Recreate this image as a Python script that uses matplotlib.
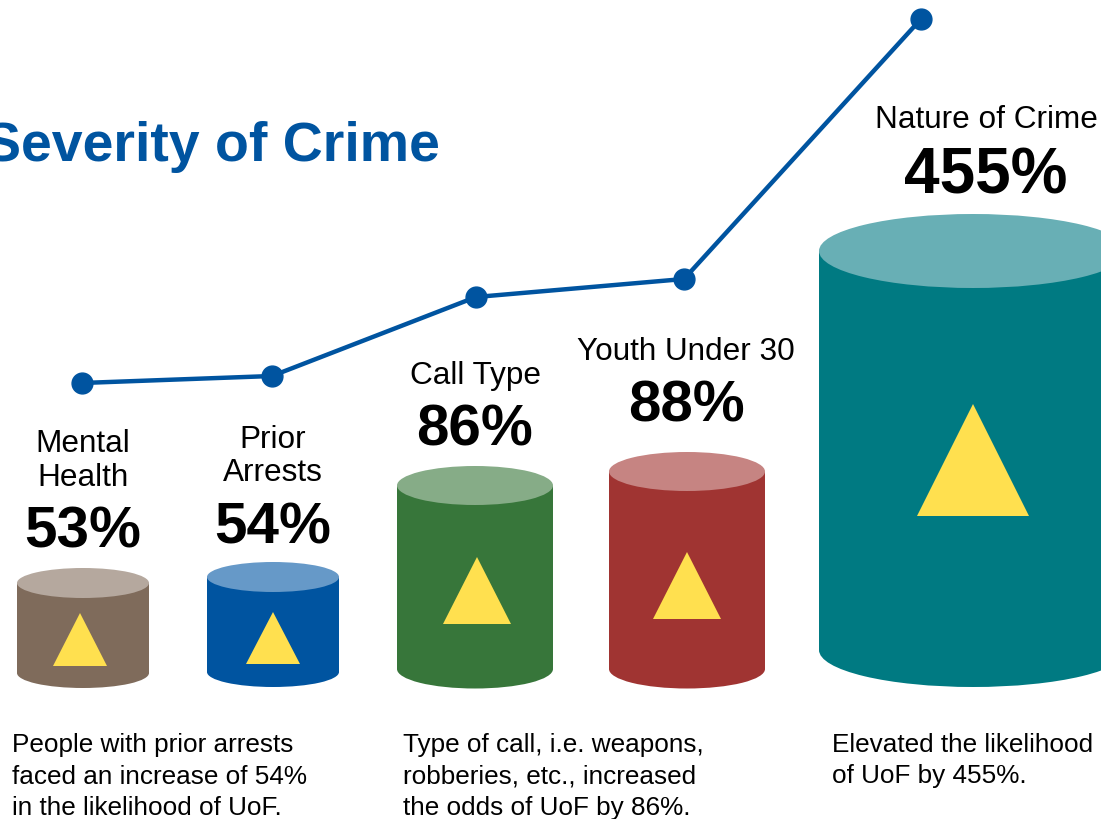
import matplotlib

matplotlib.use("Agg")
import matplotlib.pyplot as plt
from matplotlib.patches import Ellipse, Polygon, Rectangle

plt.rcParams["font.family"] = ["Liberation Sans", "DejaVu Sans"]

# Data
categories = ["Mental\nHealth", "Prior\nArrests", "Call Type", "Youth Under 30", "Nature of Crime"]
values = [53, 54, 86, 88, 455]
# trend line levels (pixels above bottom edge)
trend = [436, 443, 522, 540, 800]
notes = [
    "People with prior arrests\nfaced an increase of 54%\nin the likelihood of UoF.",
    "Type of call, i.e. weapons,\nrobberies, etc., increased\nthe odds of UoF by 86%.",
    "Elevated the likelihood\nof UoF by 455%.",
]

# Layout (pixel coordinates, y measured downward)
W, H = 1101, 819
centers = [83, 273, 475, 687, 973]
text_x = [83, 273, 475, 686, 986]
line_x = [82, 272, 476, 684, 921]
widths = [132, 132, 156, 156, 308]
top_y = [583, 577, 485.5, 471.5, 251]
bot_y = [673, 672, 669, 669, 650]
cap_ry = [15, 15, 19.5, 19.5, 37]
tri_apex = [613, 612, 557, 552, 404]
tri_base = [666, 664, 624, 619, 516]
tri_half = [27, 27, 34, 34, 56]
tri_x = [80, 273, 477, 687, 973]
label_base = [486, 481, 384, 360, 128]   # baseline of the last label line
value_base = [548, 543, 445, 422, 193]
value_size = [42, 42, 42, 42, 46]
note_x = [12, 403, 832]
body_colors = ["#7F6B5B", "#0054A0", "#37763A", "#A03432", "#007A82"]
cap_colors = ["#B5A89E", "#6699C8", "#86AC87", "#C68482", "#68AFB5"]
blue = "#0054A0"
yellow = "#FFE04F"

fig = plt.figure(figsize=(W / 100, H / 100), dpi=100)
ax = fig.add_axes([0, 0, 1, 1])
ax.set_xlim(0, W)
ax.set_ylim(H, 0)
ax.axis("off")

# Cylinders
for i in range(len(values)):
    cx, w = centers[i], widths[i]
    ax.add_patch(Ellipse((cx, bot_y[i]), w, 2 * cap_ry[i], color=body_colors[i], lw=0))
    ax.add_patch(Rectangle((cx - w / 2, top_y[i]), w, bot_y[i] - top_y[i],
                           color=body_colors[i], lw=0))
    ax.add_patch(Ellipse((cx, top_y[i]), w, 2 * cap_ry[i], color=cap_colors[i], lw=0))
    tx = tri_x[i]
    ax.add_patch(Polygon([(tx, tri_apex[i]), (tx - tri_half[i], tri_base[i]),
                          (tx + tri_half[i], tri_base[i])], closed=True,
                         color=yellow, lw=0))

    lines = categories[i].split("\n")
    for k, line in enumerate(reversed(lines)):
        ax.text(text_x[i], label_base[i] - 33.5 * k, line, ha="center",
                va="baseline", fontsize=22.7, color="black")
    ax.text(text_x[i], value_base[i], f"{values[i]}%", ha="center",
            va="baseline", fontsize=value_size[i], fontweight="bold", color="black")

# Trend line
ax.plot(line_x, [H - t for t in trend], color=blue, lw=3.2, marker="o",
        markersize=15, zorder=5)

# Title (cut off at the left edge, as in the source slide)
ax.text(440, 161, "Severity of Crime", ha="right", va="baseline", fontsize=40,
        fontweight="bold", color=blue)

# Notes
for x, note in zip(note_x, notes):
    for k, line in enumerate(note.split("\n")):
        ax.text(x, 752 + 31.5 * k, line, ha="left", va="baseline",
                fontsize=18.8, color="black")

fig.savefig("out.png", dpi=100)
plt.close(fig)
